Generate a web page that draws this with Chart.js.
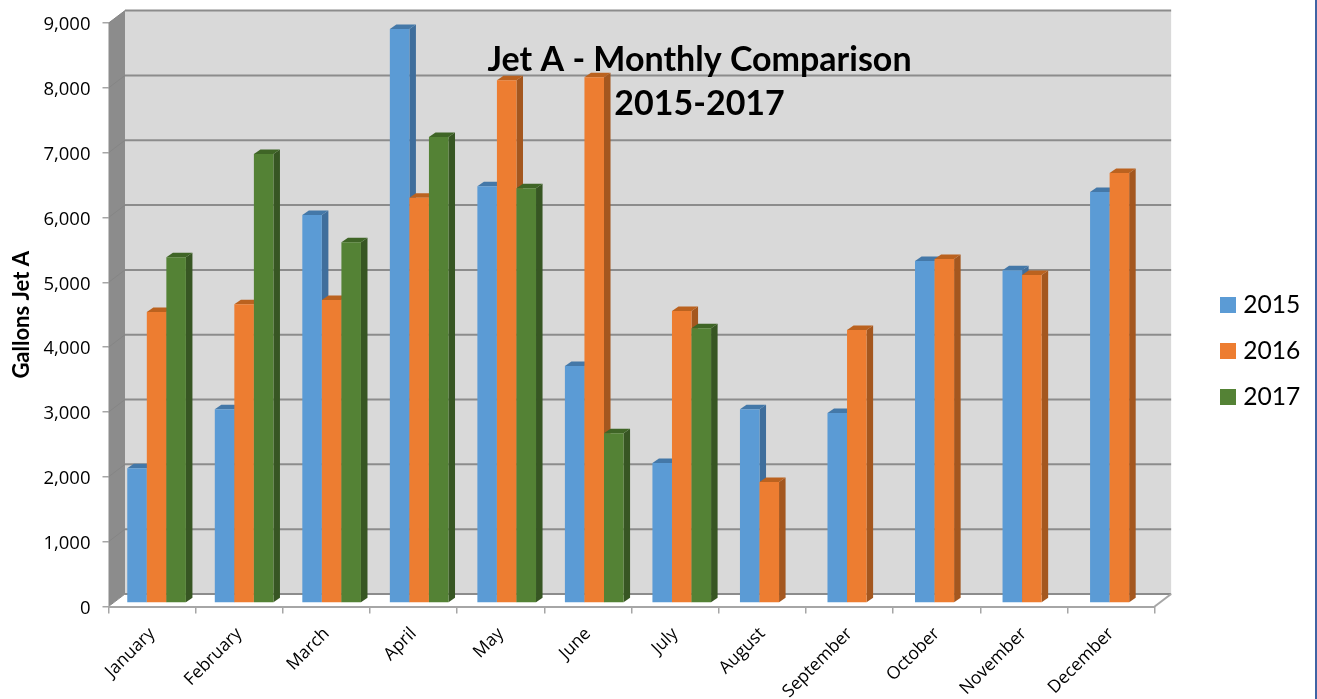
<!DOCTYPE html>
<html><head><meta charset="utf-8">
<style>
html,body{margin:0;padding:0;background:#fff;overflow:hidden}
#wrap{position:relative;width:1317px;height:699px;box-sizing:border-box;border-right:2px solid #4064a4}
canvas{position:absolute;left:0;top:0}
</style>
<script src="https://cdn.jsdelivr.net/npm/chart.js@4"></script>
</head><body><div id="wrap"><canvas id="c" width="1317" height="699"></canvas></div>
<script>
const categories=['January','February','March','April','May','June','July','August','September','October','November','December'];
const series2015=[2080,2990,5985,8855,6430,3655,2160,2990,2930,5275,5135,6340];
const series2016=[4490,4610,4675,6250,8065,8110,4505,1865,4210,5305,5060,6635];
const series2017=[5335,6925,5565,7190,6400,2620,4240,null,null,null,null,null];
const seriesNames=['2015','2016','2017'];
const frontColors=['#5b9bd5','#ed7d31','#548235'];
const sideColors=['#3f6e9c','#a4571f','#375623'];
const topColors=['#4478a8','#bb621f','#3f6526'];
const yTicks=[0,1000,2000,3000,4000,5000,6000,7000,8000,9000];
const titleLines=['Jet A - Monthly Comparison','2015-2017'];
const DX=16.5,DY=12.5; // depth of the floor
const BX=4.5,BY=3.5;   // offset of the bars from the front edge
const SX=6.5,SY=4.5;   // depth of a bar
const SPREAD=1.004;    // bars spread slightly wider than the tick marks
const GRID='#8c8c8c';
const datasetValues=[series2015,series2016,series2017];
function swatch(color){
 const c=document.createElement('canvas');c.width=16;c.height=16;
 const g=c.getContext('2d');g.fillStyle=color;g.fillRect(0,0,16,16);
 return c;
}
const scene={
 id:'scene',
 afterLayout(chart){
  const l=chart.legend;
  l.left=1204;l.right=1317;l.top-=10;l.bottom-=10;
  const t=chart.titleBlock;
  t.left+=68;t.right+=68;
 },
 beforeDraw(chart){
  const {ctx,chartArea:a,scales:{y}}=chart;
  if(!y._shifted){y.getLabelItems().forEach(i=>{i.options.translation[1]+=2;});y._shifted=true;}
  ctx.save();
  ctx.fillStyle='#d9d9d9';
  ctx.fillRect(a.left+DX,a.top-DY,a.width,a.height);
  ctx.fillStyle='#8c8c8c';
  ctx.beginPath();ctx.moveTo(a.left,a.bottom);ctx.lineTo(a.left+DX,a.bottom-DY);ctx.lineTo(a.left+DX,a.top-DY);ctx.lineTo(a.left,a.top);ctx.closePath();ctx.fill();
  ctx.fillStyle='#ffffff';
  ctx.beginPath();ctx.moveTo(a.left,a.bottom);ctx.lineTo(a.left+DX,a.bottom-DY);ctx.lineTo(a.right+DX,a.bottom-DY);ctx.lineTo(a.right,a.bottom);ctx.closePath();ctx.fill();
  yTicks.forEach(v=>{
   const p=y.getPixelForValue(v);
   ctx.strokeStyle='#858585';ctx.lineWidth=1;
   ctx.beginPath();ctx.moveTo(a.left,p);ctx.lineTo(a.left+DX,p-DY);ctx.stroke();
   ctx.strokeStyle=GRID;ctx.lineWidth=2;
   ctx.beginPath();ctx.moveTo(a.left+DX,p-DY);ctx.lineTo(a.right+DX,p-DY);ctx.stroke();
   if(v===0){ctx.strokeStyle='#a6a6a6';ctx.beginPath();ctx.moveTo(a.right,p);ctx.lineTo(a.right+DX,p-DY);ctx.stroke();}
  });
  ctx.restore();
 },
 beforeDatasetsDraw(chart){
  const {ctx,chartArea:area}=chart;
  const x0=chart.scales.x.getPixelForValue(0);
  ctx.save();
  ctx.translate(BX+x0*(1-SPREAD),-BY);
  ctx.scale(SPREAD,1);
  seriesNames.forEach((n,i)=>{
   const meta=chart.getDatasetMeta(i);
   meta.data.forEach((b,k)=>{
    if(datasetValues[i][k]==null)return;
    const l=b.x-b.width/2,r=b.x+b.width/2,t=b.y,bo=b.base;
    ctx.fillStyle=sideColors[i];
    ctx.beginPath();ctx.moveTo(r,t);ctx.lineTo(r+SX,t-SY);ctx.lineTo(r+SX,bo-SY);ctx.lineTo(r,bo);ctx.closePath();ctx.fill();
    ctx.fillStyle=topColors[i];
    ctx.beginPath();ctx.moveTo(l,t);ctx.lineTo(l+SX,t-SY);ctx.lineTo(r+SX,t-SY);ctx.lineTo(r,t);ctx.closePath();ctx.fill();
    b.draw(ctx,area);
   });
  });
  ctx.restore();
 },
 beforeDatasetDraw(){return false;}
};
new Chart(document.getElementById('c'),{
 type:'bar',
 plugins:[scene],
 data:{labels:categories,datasets:seriesNames.map((n,i)=>({label:n,data:datasetValues[i],backgroundColor:frontColors[i],barPercentage:1,categoryPercentage:0.67}))},
 options:{
  responsive:false,animation:false,
  layout:{padding:{top:23,left:0,right:56,bottom:0}},
  scales:{
   x:{
    grid:{drawOnChartArea:false,drawTicks:true,tickLength:7,tickColor:'#a6a6a6',lineWidth:1.5},
    border:{display:true,color:'#a6a6a6',width:2},
    ticks:{minRotation:45,maxRotation:45,autoSkip:false,color:'#000',padding:10,font:{family:'Open Sans',size:17.5}},
    afterFit(s){s.height=699-606.5;}
   },
   y:{
    min:0,max:9000,
    afterBuildTicks(s){s.ticks=yTicks.map(v=>({value:v}));},
    grid:{drawOnChartArea:false,drawTicks:true,tickLength:6,tickColor:'#a6a6a6',lineWidth:1.5},
    border:{display:false},
    ticks:{color:'#000',padding:12,font:{family:'Open Sans',size:18.5},callback:v=>v.toLocaleString('en-US')},
    title:{display:true,text:'Gallons Jet A',color:'#000',font:{family:'Lato',size:22,weight:'bold'},padding:{top:9,bottom:0}},
    afterFit(s){s.width=108.5;}
   }
  },
  plugins:{
   title:{display:true,text:titleLines,color:'#000',font:{family:'Lato',size:34,weight:'bold',lineHeight:1.3},padding:{top:15,bottom:-103.4},align:'center',fullSize:false},
   legend:{position:'right',labels:{
    usePointStyle:true,pointStyleWidth:6,boxHeight:16,padding:21,color:'#000',font:{family:'Lato',size:24.6},
    generateLabels(chart){
     return Chart.defaults.plugins.legend.labels.generateLabels(chart).map((it,i)=>Object.assign(it,{pointStyle:swatch(frontColors[i])}));
    }
   }},
   tooltip:{enabled:false}
  }
 }
});
</script></body></html>
